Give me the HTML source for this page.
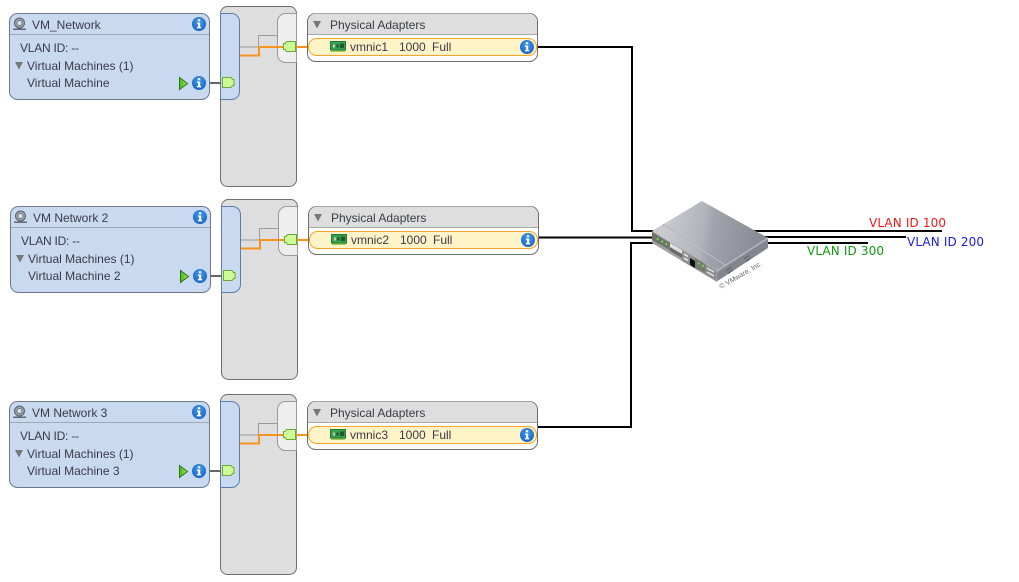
<!DOCTYPE html>
<html><head><meta charset="utf-8"><style>
html,body{margin:0;padding:0;background:#fff}
svg{display:block}
text{font-family:"Liberation Sans",sans-serif;font-size:12px;fill:#3a3a48}
.v{font-family:"DejaVu Sans",sans-serif;font-size:12px}
</style></head><body>
<svg width="1019" height="582" viewBox="0 0 1019 582" xmlns="http://www.w3.org/2000/svg">
<defs>
<radialGradient id="ib" cx="50%" cy="35%" r="65%"><stop offset="0" stop-color="#4a9cea"/><stop offset="1" stop-color="#1563c4"/></radialGradient>
<linearGradient id="sw" gradientUnits="userSpaceOnUse" x1="665" y1="225" x2="760" y2="240"><stop offset="0" stop-color="#cacad0"/><stop offset="0.4" stop-color="#b2b2bb"/><stop offset="0.5" stop-color="#a2a2ad"/><stop offset="1" stop-color="#8a8a96"/></linearGradient>
<linearGradient id="pl" x1="0" y1="0" x2="1" y2="0"><stop offset="0" stop-color="#4fb020"/><stop offset="1" stop-color="#a4ec60"/></linearGradient>
<filter id="soft" x="-5%" y="-5%" width="110%" height="110%"><feGaussianBlur stdDeviation="0.35"/></filter>
<g id="info"><circle r="7" fill="url(#ib)"/><rect x="-1.2" y="-4.8" width="2.4" height="2" fill="#fff"/><path d="M-2-1.5H1.2V3H2.2V4.4H-2.2V3H-.9V-.2H-2Z" fill="#fff"/></g>
<path id="port" d="M.5.5H9L10.5 2.5H12V8.5H10.5L9 10.5H.5Z" fill="#ccfc96" stroke="#6da536"/>
<path id="lport" d="M12.5.5H3.500L2 2.500H.5V8.500H2L3.500 10.500H12.500Z" fill="#ccfc96" stroke="#6da536"/>
<g id="play"><path d="M.5.5L8.500 6.500L.5 12.500Z" fill="url(#pl)" stroke="#237a12"/></g>
<g id="net"><path d="M0 12H13V10.500H8.500V9.500H4.500V10.500H0Z" fill="#5f6a72"/><circle cx="6.500" cy="5" r="5" fill="#9aa4aa" stroke="#58626a"/><circle cx="6.500" cy="5" r="2.500" fill="#dfe5ea" stroke="#707a82"/></g>
<g id="nic"><rect x=".5" y=".5" width="15" height="8.500" fill="#3aa050" stroke="#1f7a38"/><rect x="3" y="3.500" width="2" height="3" fill="#c0d0c0"/><rect x="6.500" y="3.500" width="2" height="3" fill="#1d4a2a"/><rect x="10" y="2.500" width="4" height="4.500" fill="#1a5a30"/><path d="M1 9.500H15V11H1Z" fill="#a4cc50"/></g>
</defs>

<g fill="none" stroke="#000" stroke-width="2">
<path d="M538 47H632V231H660"/>
<path d="M538 237.500H655"/>
<path d="M538 427H631V243H660"/>
<path d="M750 231H942"/>
<path d="M750 237H906"/>
<path d="M750 243H868"/>
</g>

<!-- Block 1 -->
<g>
<rect x="220.500" y="6.500" width="76" height="180" rx="7" fill="#dedede" stroke="#6e6e6e"/>
<path d="M220.500 13.500H231.500a8 8 0 0 1 8 8V91.500a8 8 0 0 1-8 8H220.500Z" fill="#c9d9f0" stroke="#5a7eb0"/>
<path d="M296.500 13.500H285.500a8 8 0 0 0-8 8V54.500a8 8 0 0 0 8 8H296.500Z" fill="#eeeeee" stroke="#9a9a9a"/>
<path d="M240 47H258.500V35.500H277" fill="none" stroke="#999"/>
<path d="M240 55.500H259V47H283M296 47H308" fill="none" stroke="#f7941e" stroke-width="2"/>
<path d="M210 83H221" stroke="#666" stroke-width="2"/>
<use href="#lport" x="283" y="41"/>
<use href="#port" x="222" y="77"/>
<rect x="9.500" y="13.500" width="200" height="86" rx="8" fill="#c9d9f0" stroke="#6b7a8c"/>
<path d="M10 34.500H209" stroke="#a0a8b4"/>
<use href="#net" x="13" y="18"/>
<text x="32" y="29">VM_Network</text>
<use href="#info" x="199" y="24"/>
<text x="20" y="52" textLength="59">VLAN ID: --</text>
<path d="M15 62H23L19 69.500Z" fill="#777"/>
<text x="27" y="70">Virtual Machines (1)</text>
<text x="27" y="87">Virtual Machine</text>
<use href="#play" x="179" y="77"/>
<use href="#info" x="199" y="83"/>
<rect x="307.500" y="13.500" width="230" height="48" rx="8" fill="#fff" stroke="#6e6e6e"/>
<path d="M308 34.500V21.500a8 8 0 0 1 8-8H529a8 8 0 0 1 8 8V34.500Z" fill="#dedede"/>
<path d="M308 34.500H537" stroke="#a8a8a8"/>
<path d="M313 21H321L317 28.500Z" fill="#777"/>
<text x="330" y="29">Physical Adapters</text>
<rect x="308.500" y="38.500" width="228" height="17" rx="8" fill="#fff3c8" stroke="#f7a42c"/>
<use href="#nic" x="330" y="41"/>
<text x="350" y="51">vmnic1</text><text x="399" y="51">1000</text><text x="432" y="51">Full</text>
<use href="#info" x="527" y="47"/>
</g>

<!-- Block 2 -->
<g>
<rect x="221.500" y="199.500" width="76" height="180" rx="7" fill="#dedede" stroke="#6e6e6e"/>
<path d="M221.500 206.500H232.500a8 8 0 0 1 8 8V284.500a8 8 0 0 1-8 8H221.500Z" fill="#c9d9f0" stroke="#5a7eb0"/>
<path d="M297.500 206.500H286.500a8 8 0 0 0-8 8V247.500a8 8 0 0 0 8 8H297.500Z" fill="#eeeeee" stroke="#9a9a9a"/>
<path d="M241 240H259.500V228.500H278" fill="none" stroke="#999"/>
<path d="M241 248.500H260V240H284M297 240H309" fill="none" stroke="#f7941e" stroke-width="2"/>
<path d="M211 276H222" stroke="#666" stroke-width="2"/>
<use href="#lport" x="284" y="234"/>
<use href="#port" x="223" y="270"/>
<rect x="10.500" y="206.500" width="200" height="86" rx="8" fill="#c9d9f0" stroke="#6b7a8c"/>
<path d="M11 227.500H210" stroke="#a0a8b4"/>
<use href="#net" x="14" y="211"/>
<text x="33" y="222">VM Network 2</text>
<use href="#info" x="200" y="217"/>
<text x="21" y="245" textLength="59">VLAN ID: --</text>
<path d="M16 255H24L20 262.500Z" fill="#777"/>
<text x="28" y="263">Virtual Machines (1)</text>
<text x="28" y="280">Virtual Machine 2</text>
<use href="#play" x="180" y="270"/>
<use href="#info" x="200" y="276"/>
<rect x="308.500" y="206.500" width="230" height="48" rx="8" fill="#fff" stroke="#6e6e6e"/>
<path d="M309 227.500V214.500a8 8 0 0 1 8-8H530a8 8 0 0 1 8 8V227.500Z" fill="#dedede"/>
<path d="M309 227.500H538" stroke="#a8a8a8"/>
<path d="M314 214H322L318 221.500Z" fill="#777"/>
<text x="331" y="222">Physical Adapters</text>
<rect x="309.500" y="231.500" width="228" height="17" rx="8" fill="#fff3c8" stroke="#f7a42c"/>
<use href="#nic" x="331" y="234"/>
<text x="351" y="244">vmnic2</text><text x="400" y="244">1000</text><text x="433" y="244">Full</text>
<use href="#info" x="528" y="240"/>
</g>

<!-- Block 3 -->
<g>
<rect x="220.500" y="394.500" width="76" height="180" rx="7" fill="#dedede" stroke="#6e6e6e"/>
<path d="M220.500 401.500H231.500a8 8 0 0 1 8 8V479.500a8 8 0 0 1-8 8H220.500Z" fill="#c9d9f0" stroke="#5a7eb0"/>
<path d="M296.500 401.500H285.500a8 8 0 0 0-8 8V442.500a8 8 0 0 0 8 8H296.500Z" fill="#eeeeee" stroke="#9a9a9a"/>
<path d="M240 435H258.500V423.500H277" fill="none" stroke="#999"/>
<path d="M240 443.500H259V435H283M296 435H308" fill="none" stroke="#f7941e" stroke-width="2"/>
<path d="M210 471H221" stroke="#666" stroke-width="2"/>
<use href="#lport" x="283" y="429"/>
<use href="#port" x="222" y="465"/>
<rect x="9.500" y="401.500" width="200" height="86" rx="8" fill="#c9d9f0" stroke="#6b7a8c"/>
<path d="M10 422.500H209" stroke="#a0a8b4"/>
<use href="#net" x="13" y="406"/>
<text x="32" y="417">VM Network 3</text>
<use href="#info" x="199" y="412"/>
<text x="20" y="440" textLength="59">VLAN ID: --</text>
<path d="M15 450H23L19 457.500Z" fill="#777"/>
<text x="27" y="458">Virtual Machines (1)</text>
<text x="27" y="475">Virtual Machine 3</text>
<use href="#play" x="179" y="465"/>
<use href="#info" x="199" y="471"/>
<rect x="307.500" y="401.500" width="230" height="48" rx="8" fill="#fff" stroke="#6e6e6e"/>
<path d="M308 422.500V409.500a8 8 0 0 1 8-8H529a8 8 0 0 1 8 8V422.500Z" fill="#dedede"/>
<path d="M308 422.500H537" stroke="#a8a8a8"/>
<path d="M313 409H321L317 416.500Z" fill="#777"/>
<text x="330" y="417">Physical Adapters</text>
<rect x="308.500" y="426.500" width="228" height="17" rx="8" fill="#fff3c8" stroke="#f7a42c"/>
<use href="#nic" x="330" y="429"/>
<text x="350" y="439">vmnic3</text><text x="399" y="439">1000</text><text x="432" y="439">Full</text>
<use href="#info" x="527" y="435"/>
</g>

<!-- Switch -->
<g filter="url(#soft)">
<path d="M652 231L702 201L768 238L717 270Z" fill="url(#sw)"/>
<path d="M663 224.500L725 265" stroke="#8e8e98" fill="none"/>
<path d="M664 225.500L726 265.500" stroke="#d6d6dc" stroke-width=".7" fill="none"/>
<path d="M717 270L768 237V248L716 282Z" fill="#85858f"/>
<path d="M717 270L768 237V239L717 272Z" fill="#b4b4bc"/>
<path d="M652 231L717 270V282L652 243Z" fill="#a0a0a2"/>
<path d="M652 232L670 243V250L652 240Z" fill="#6c7468"/>
<path d="M670 243L682 250V256L670 249Z" fill="#e2e2e2"/>
<path d="M670 247L682 254V258L670 251Z" fill="#6a6a6a"/>
<path d="M682 251L695 258V268L682 261Z" fill="#8f8f92"/>
<path d="M684 254l4 2.500M684 258l4 2.500" stroke="#eee" stroke-width="1.500"/>
<path d="M690 258L695 261V268L690 265Z" fill="#111"/>
<path d="M695 258L705 264V273L695 268Z" fill="#767a72"/>
<path d="M705 265L716 271V280L705 274Z" fill="#8c8c90"/>
<path d="M707 268l7 4M707 272l7 4" stroke="#e6e6e6" stroke-width="1.500"/>
<path d="M657 238.500l1.500 1M661.500 241l1.500 1M665.500 243.500l1.500 1M698 263l1.500 1M702 265.500l1.500 1" stroke="#74e048" stroke-width="2"/>
<path d="M726 271L731 267.500M728 273.500L733 270M744 259L749 255.500M746 261.500L751 258" stroke="#6a6a74" stroke-width="1.500"/>
</g>
<text transform="translate(721 289) rotate(-30)" style="font-size:7px;fill:#666">© VMware, Inc.</text>

<!-- VLAN labels -->
<text class="v" x="869" y="227" textLength="77" style="fill:#f01818">VLAN ID 100</text>
<text class="v" x="907" y="246" textLength="77" style="fill:#1818e0">VLAN ID 200</text>
<text class="v" x="807" y="255" textLength="77" style="fill:#109810">VLAN ID 300</text>
</svg>
</body></html>
